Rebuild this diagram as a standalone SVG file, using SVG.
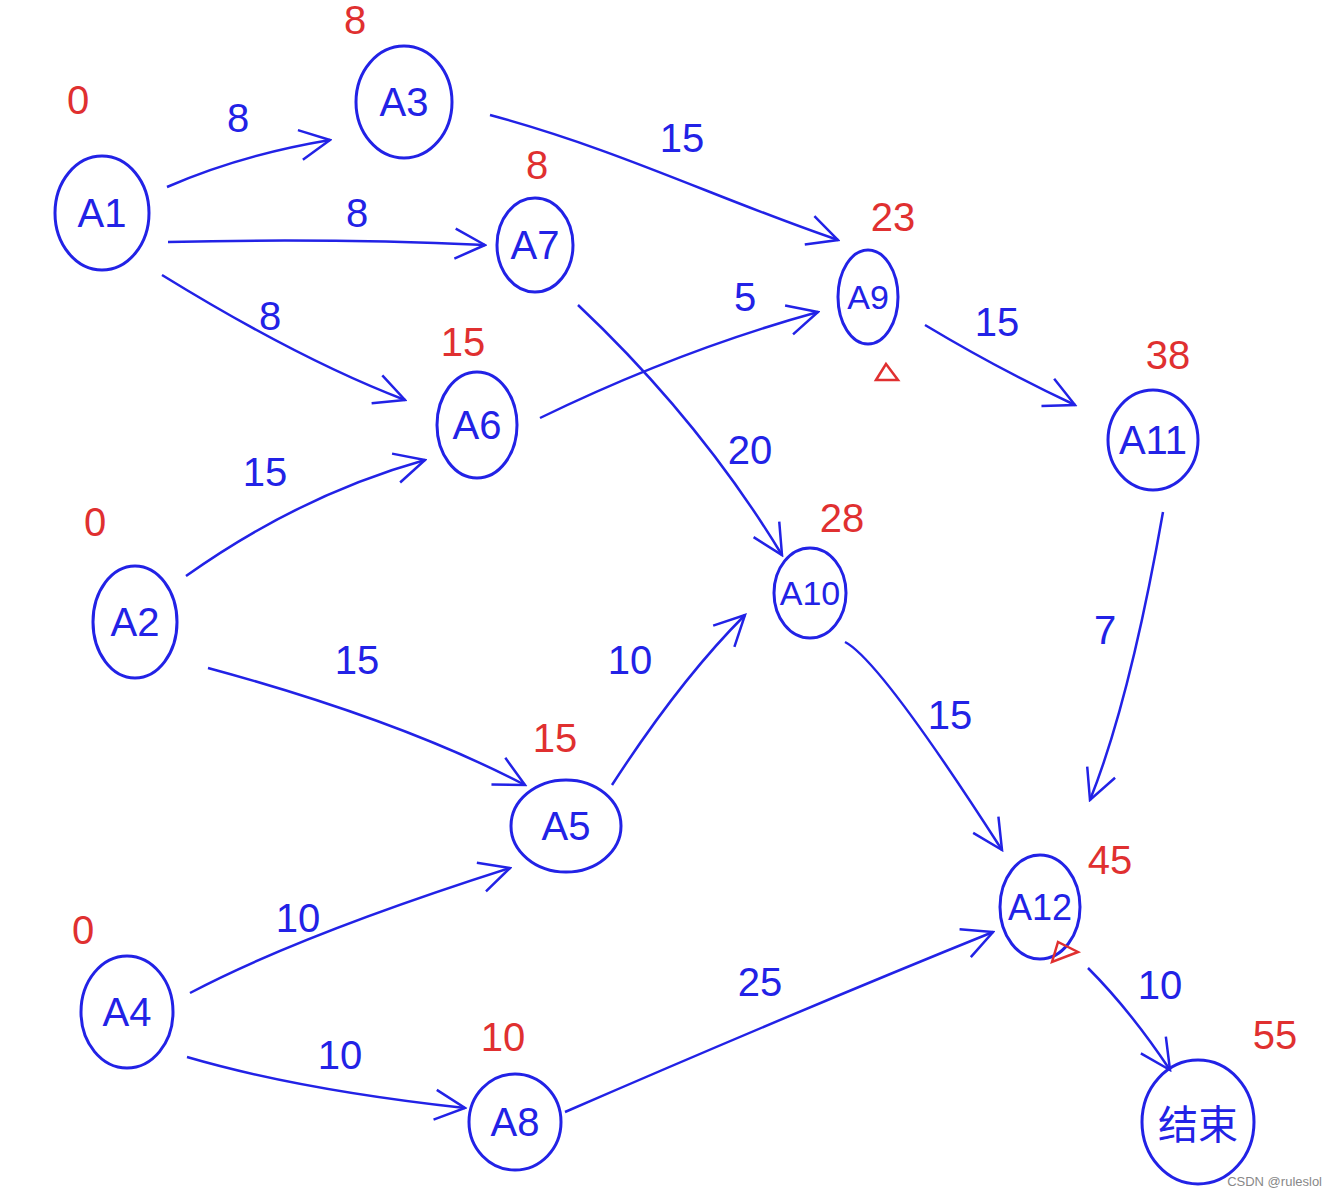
<svg xmlns="http://www.w3.org/2000/svg" width="1338" height="1200" viewBox="0 0 1338 1200">
<style>
.node{fill:none;stroke:#2222e6;stroke-width:3}
.nl{font-family:"Liberation Sans","Noto Sans CJK SC",sans-serif;font-size:40px;fill:#2222e6;text-anchor:middle;dominant-baseline:central}
.edge{fill:none;stroke:#2222e6;stroke-width:2.5;marker-end:url(#arr)}
.w{font-family:"Liberation Sans",sans-serif;font-size:40px;fill:#2222e6;text-anchor:middle;dominant-baseline:central}
.r{font-family:"Liberation Sans",sans-serif;font-size:40px;fill:#e03030;text-anchor:middle;dominant-baseline:central}
.tri{fill:none;stroke:#e03030;stroke-width:2.5}
</style>
<defs>
<marker id="arr" viewBox="0 0 14 14" refX="13" refY="7" markerWidth="14" markerHeight="14" orient="auto" markerUnits="strokeWidth">
<path d="M1,1 L13,7 L1,13" fill="none" stroke="#2222e6" stroke-width="1"/>
</marker>
</defs>
<rect width="1338" height="1200" fill="#ffffff"/>
<g id="connectors">
<path class="edge" d="M167,187 Q240,155 330,140"/>
<path class="edge" d="M168,242 Q330,238 485,245"/>
<path class="edge" d="M162,275 Q300,360 405,400"/>
<path class="edge" d="M490,115 C620,150 720,200 838,240"/>
<path class="edge" d="M540,418 Q680,350 818,312"/>
<path class="edge" d="M578,305 Q700,420 782,555"/>
<path class="edge" d="M186,576 Q300,495 425,460"/>
<path class="edge" d="M208,668 Q400,720 525,785"/>
<path class="edge" d="M612,785 Q680,680 745,615"/>
<path class="edge" d="M925,325 Q1000,370 1075,405"/>
<path class="edge" d="M1163,512 Q1130,700 1090,800"/>
<path class="edge" d="M845,642 Q880,660 1002,850"/>
<path class="edge" d="M190,993 Q300,935 510,868"/>
<path class="edge" d="M187,1057 Q300,1090 465,1108"/>
<path class="edge" d="M565,1112 Q800,1010 993,932"/>
<path class="edge" d="M1088,968 Q1130,1010 1170,1070"/>
<text class="w" x="238" y="118">8</text>
<text class="w" x="357" y="213">8</text>
<text class="w" x="270" y="316">8</text>
<text class="w" x="682" y="138">15</text>
<text class="w" x="745" y="297">5</text>
<text class="w" x="750" y="450">20</text>
<text class="w" x="265" y="472">15</text>
<text class="w" x="357" y="660">15</text>
<text class="w" x="630" y="660">10</text>
<text class="w" x="997" y="322">15</text>
<text class="w" x="1105" y="630">7</text>
<text class="w" x="950" y="715">15</text>
<text class="w" x="298" y="918">10</text>
<text class="w" x="340" y="1055">10</text>
<text class="w" x="760" y="982">25</text>
<text class="w" x="1160" y="985">10</text>
</g>
<g id="A1"><ellipse class="node" cx="102" cy="213" rx="47" ry="57"/><text class="nl" x="102" y="213">A1</text><text class="r" x="78" y="100">0</text></g>
<g id="A3"><ellipse class="node" cx="404" cy="102" rx="48" ry="56"/><text class="nl" x="404" y="102">A3</text><text class="r" x="355" y="20">8</text></g>
<g id="A7"><ellipse class="node" cx="535" cy="245" rx="38" ry="47"/><text class="nl" x="535" y="245">A7</text><text class="r" x="537" y="165">8</text></g>
<g id="A6"><ellipse class="node" cx="477" cy="425" rx="40" ry="53"/><text class="nl" x="477" y="425">A6</text><text class="r" x="463" y="342">15</text></g>
<g id="A9"><ellipse class="node" cx="868" cy="297" rx="30" ry="47"/><text class="nl" x="868" y="297" style="font-size:34px">A9</text><text class="r" x="893" y="217">23</text><path class="tri" d="M876,380 L886,364 L898,380 Z"/></g>
<g id="A11"><ellipse class="node" cx="1153" cy="440" rx="45" ry="50"/><text class="nl" x="1153" y="440">A11</text><text class="r" x="1168" y="355">38</text></g>
<g id="A2"><ellipse class="node" cx="135" cy="622" rx="42" ry="56"/><text class="nl" x="135" y="622">A2</text><text class="r" x="95" y="522">0</text></g>
<g id="A10"><ellipse class="node" cx="810" cy="593" rx="36" ry="45"/><text class="nl" x="810" y="593" style="font-size:34px">A10</text><text class="r" x="842" y="518">28</text></g>
<g id="A5"><ellipse class="node" cx="566" cy="826" rx="55" ry="46"/><text class="nl" x="566" y="826">A5</text><text class="r" x="555" y="738">15</text></g>
<g id="A12"><ellipse class="node" cx="1040" cy="907" rx="40" ry="52"/><text class="nl" x="1040" y="907" style="font-size:36px">A12</text><text class="r" x="1110" y="860">45</text><path class="tri" d="M1052,962 L1058,942 L1078,952 Z"/></g>
<g id="A4"><ellipse class="node" cx="127" cy="1012" rx="46" ry="56"/><text class="nl" x="127" y="1012">A4</text><text class="r" x="83" y="930">0</text></g>
<g id="A8"><ellipse class="node" cx="515" cy="1122" rx="46" ry="48"/><text class="nl" x="515" y="1122">A8</text><text class="r" x="503" y="1037">10</text></g>
<g id="End"><ellipse class="node" cx="1198" cy="1122" rx="56" ry="62"/><text class="nl" x="1198" y="1125">结束</text><text class="r" x="1275" y="1035">55</text></g>
<text x="1322" y="1186" style="font-family:'Liberation Sans',sans-serif;font-size:13px;fill:#888;text-anchor:end">CSDN @ruleslol</text>
</svg>
